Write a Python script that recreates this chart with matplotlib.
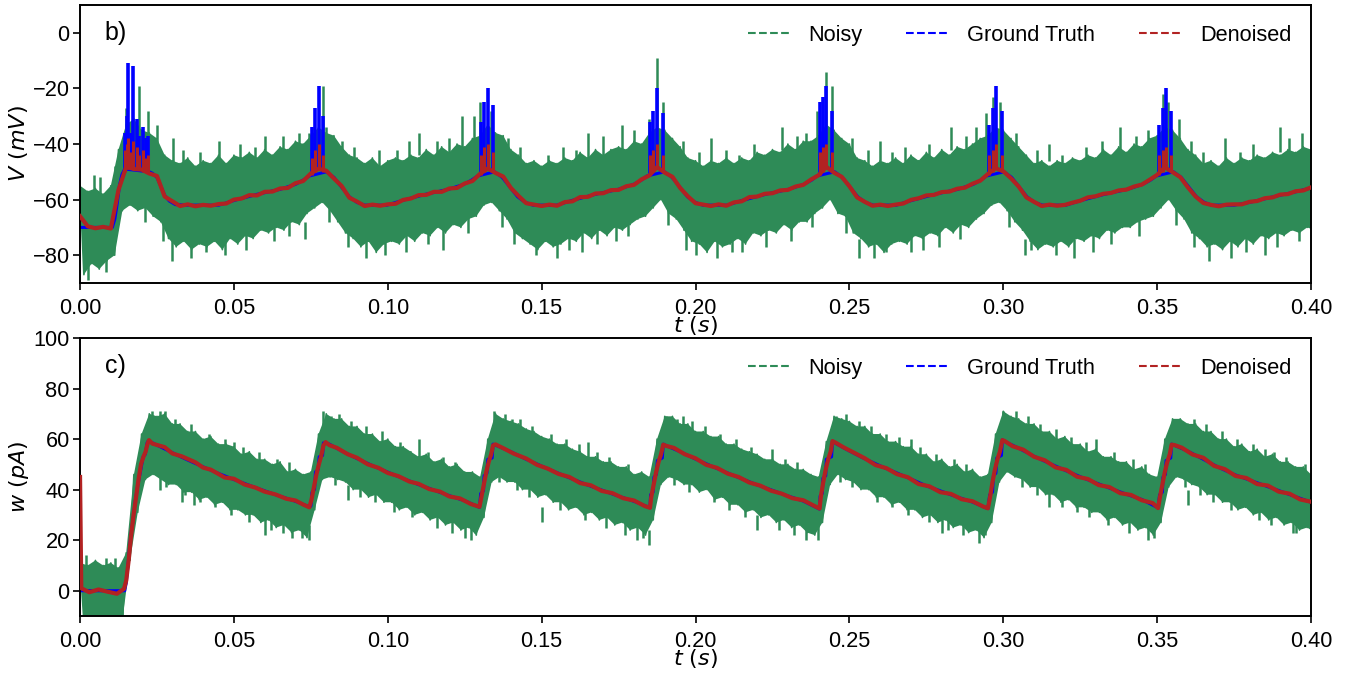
import numpy as np
import matplotlib
matplotlib.use("Agg")
import matplotlib.pyplot as plt
from matplotlib.lines import Line2D

plt.rcParams['font.family'] = ['Liberation Sans', 'DejaVu Sans']
plt.rcParams['mathtext.fontset'] = 'dejavusans'

# ---------------- data ----------------
STEP = 0.0025
N_GRID = 161
t_grid = np.arange(N_GRID) * STEP          # sample grid of the upper envelope
t_grid_lo = t_grid + STEP / 2              # sample grid of the lower envelope

XTICKS = [0.00, 0.05, 0.10, 0.15, 0.20, 0.25, 0.30, 0.35, 0.40]
V_YTICKS = [-80, -60, -40, -20, 0]
W_YTICKS = [0, 20, 40, 60, 80, 100]
LABELS = ["Noisy", "Ground Truth", "Denoised"]

# ---- panel b) membrane potential V (mV) ----
V_noisy_hi = [
    -55, -57, -56, -58, -55, -42, -33, -31, -35, -36,
    -38, -44, -46, -47, -45, -48, -46, -47, -44, -47,
    -44, -45, -43, -45, -42, -44, -41, -42, -39, -40,
    -37, -34, -36, -37, -41, -44, -45, -47, -45, -48,
    -46, -45, -46, -44, -45, -42, -44, -41, -43, -40,
    -41, -38, -37, -33, -36, -37, -42, -44, -47, -46,
    -48, -46, -47, -45, -46, -43, -45, -42, -44, -42,
    -41, -42, -39, -40, -36, -34, -35, -38, -41, -45,
    -46, -48, -46, -47, -45, -47, -45, -46, -43, -44,
    -42, -43, -40, -42, -39, -39, -37, -33, -35, -38,
    -40, -45, -46, -48, -46, -47, -45, -47, -44, -46,
    -43, -45, -42, -44, -41, -42, -40, -38, -37, -34,
    -35, -38, -41, -44, -47, -46, -48, -46, -47, -45,
    -46, -44, -45, -42, -44, -41, -43, -40, -41, -38,
    -37, -34, -35, -38, -42, -44, -47, -46, -48, -45,
    -47, -45, -46, -44, -45, -43, -44, -42, -43, -41,
    -42]
V_noisy_lo = [
    -87, -83, -85, -82, -80, -64, -62, -64, -63, -66,
    -68, -74, -77, -75, -78, -76, -77, -75, -78, -74,
    -76, -73, -74, -71, -72, -70, -71, -68, -69, -65,
    -63, -61, -64, -68, -72, -74, -77, -75, -79, -76,
    -75, -76, -73, -75, -72, -73, -70, -72, -69, -70,
    -67, -66, -62, -61, -64, -67, -72, -74, -76, -78,
    -75, -77, -76, -74, -75, -72, -74, -71, -73, -70,
    -71, -69, -67, -66, -63, -60, -65, -67, -71, -75,
    -76, -79, -75, -77, -76, -74, -76, -72, -73, -71,
    -72, -69, -71, -68, -68, -65, -63, -60, -65, -66,
    -72, -74, -77, -76, -79, -76, -75, -76, -73, -74,
    -72, -73, -70, -72, -69, -70, -67, -65, -62, -61,
    -64, -68, -71, -75, -78, -76, -77, -75, -77, -74,
    -75, -73, -74, -71, -72, -70, -70, -68, -67, -66,
    -63, -60, -64, -67, -72, -74, -77, -76, -78, -75,
    -77, -74, -76, -73, -74, -72, -73, -71, -72, -70,
    -71]
# isolated noisy excursions (time, low end, high end)
V_noisy_spk_t = [0.0149, 0.0190, 0.0222, 0.0303, 0.0745, 0.0789, 0.0800, 0.1280, 0.1335, 0.1300,
                 0.1874, 0.1893, 0.1850, 0.2424, 0.2443, 0.2395, 0.2966, 0.2990, 0.2945, 0.3520,
                 0.3535, 0.3570, 0.0045, 0.0450, 0.0600, 0.1100, 0.1240, 0.1650, 0.1760, 0.2050,
                 0.2280, 0.2600, 0.2830, 0.3150, 0.3380, 0.3720, 0.3900, 0.3970,
                 0.0300, 0.0470, 0.0730, 0.0930, 0.1180, 0.1480, 0.1630, 0.2000, 0.2150, 0.2530,
                 0.2700, 0.3070, 0.3230, 0.3670, 0.3850]
V_noisy_spk_lo = [-45, -45, -45, -48, -42, -42, -42, -42, -40, -40,
                  -40, -40, -42, -40, -40, -42, -40, -40, -42, -40,
                  -40, -42, -58, -46, -44, -44, -42, -45, -42, -46,
                  -42, -46, -42, -46, -42, -46, -43, -42,
                  -82, -80, -74, -81, -78, -80, -79, -80, -79, -81,
                  -79, -80, -81, -82, -80]
V_noisy_spk_hi = [-27, -19, -28, -38, -36, -19, -34, -30, -28, -25,
                  -9, -25, -31, -14, -19, -28, -23, -25, -29, -22,
                  -25, -31, -51, -39, -37, -36, -30, -36, -33, -38,
                  -34, -39, -34, -40, -34, -38, -34, -36,
                  -74, -74, -68, -75, -70, -75, -72, -75, -72, -74,
                  -72, -74, -74, -75, -73]
# short noisy hairs sticking out of the upper / lower edge (time, tip value)
V_hair_up_t = [0.0065, 0.0115, 0.0250, 0.0335, 0.0390, 0.0520, 0.0570, 0.0660, 0.0710, 0.0850,
               0.0890, 0.0970, 0.1030, 0.1070, 0.1160, 0.1200, 0.1390, 0.1430, 0.1520, 0.1570,
               0.1610, 0.1700, 0.1800, 0.1960, 0.2010, 0.2100, 0.2140, 0.2190, 0.2330, 0.2360,
               0.2510, 0.2560, 0.2640, 0.2680, 0.2760, 0.2880, 0.2910, 0.3040, 0.3110, 0.3190,
               0.3270, 0.3320, 0.3430, 0.3470, 0.3610, 0.3650, 0.3770, 0.3810, 0.3930]
V_hair_up_v = [-52, -48, -33, -42, -43, -40, -41, -37, -36, -39,
               -41, -42, -42, -39, -39, -38, -38, -41, -44, -41,
               -42, -37, -35, -39, -43, -42, -44, -40, -37, -36,
               -38, -42, -43, -41, -40, -37, -34, -36, -42, -44,
               -41, -39, -37, -35, -39, -43, -43, -40, -38]
V_hair_dn_t = [0.0025, 0.0085, 0.0210, 0.0270, 0.0360, 0.0410, 0.0540, 0.0630, 0.0680, 0.0810,
               0.0870, 0.0990, 0.1060, 0.1130, 0.1260, 0.1370, 0.1410, 0.1550, 0.1590, 0.1680,
               0.1740, 0.1780, 0.1910, 0.1970, 0.2070, 0.2120, 0.2230, 0.2310, 0.2380, 0.2490,
               0.2580, 0.2620, 0.2740, 0.2790, 0.2860, 0.3020, 0.3090, 0.3170, 0.3290, 0.3350,
               0.3440, 0.3560, 0.3620, 0.3740, 0.3790, 0.3890, 0.3960]
V_hair_dn_v = [-89, -86, -68, -75, -81, -79, -78, -75, -73, -68,
               -77, -80, -79, -76, -72, -70, -76, -81, -78, -76,
               -75, -73, -69, -78, -81, -79, -77, -75, -70, -72,
               -81, -79, -78, -77, -74, -70, -78, -80, -79, -76,
               -73, -69, -77, -81, -79, -77, -75]

V_truth_t = [0.0000, 0.0105, 0.0113, 0.0120, 0.0128, 0.0136, 0.0145, 0.0225, 0.0235, 0.0250,
             0.0262, 0.0275, 0.0290, 0.0310, 0.0350, 0.0450, 0.0475, 0.0500, 0.0575, 0.0650,
             0.0700, 0.0725, 0.0745, 0.0800, 0.0825, 0.0850, 0.0875, 0.0900, 0.0925,
             0.0997, 0.1047, 0.1122, 0.1197, 0.1247, 0.1272, 0.1292, 0.1347, 0.1372, 0.1397,
             0.1422, 0.1447, 0.1472, 0.1549, 0.1599, 0.1674, 0.1749, 0.1799, 0.1824, 0.1842,
             0.1899, 0.1924, 0.1949, 0.1974, 0.1999, 0.2024, 0.2102, 0.2152, 0.2227, 0.2302,
             0.2352, 0.2377, 0.2394, 0.2452, 0.2477, 0.2502, 0.2527, 0.2552, 0.2577, 0.2652,
             0.2702, 0.2777, 0.2852, 0.2902, 0.2927, 0.2945, 0.3002, 0.3027, 0.3052, 0.3077,
             0.3102, 0.3127, 0.3203, 0.3253, 0.3328, 0.3403, 0.3453, 0.3478, 0.3497, 0.3553,
             0.3578, 0.3603, 0.3628, 0.3653, 0.3678, 0.3750, 0.3800, 0.3850, 0.3900, 0.3950,
             0.4000]
V_truth_v = [-70.0, -70.0, -67.0, -62.0, -55.0, -51.0, -49.0, -50.0, -50.5, -52.0,
             -55.0, -58.5, -60.5, -61.8, -62.0, -62.0, -61.2, -60.3, -58.1, -56.3,
             -54.5, -53.0, -51.5, -50.0, -52.0, -55.5, -59.0, -61.0, -62.0,
             -62.0, -60.3, -58.1, -56.3, -54.5, -53.0, -51.5, -50.0, -52.0, -55.5,
             -59.0, -61.0, -62.0, -62.0, -60.3, -58.1, -56.3, -54.5, -53.0, -51.5,
             -50.0, -52.0, -55.5, -59.0, -61.0, -62.0, -62.0, -60.3, -58.1, -56.3,
             -54.5, -53.0, -51.5, -50.0, -52.0, -55.5, -59.0, -61.0, -62.0, -62.0,
             -60.3, -58.1, -56.3, -54.5, -53.0, -51.5, -50.0, -52.0, -55.5, -59.0,
             -61.0, -62.0, -62.0, -60.3, -58.1, -56.3, -54.5, -53.0, -51.5, -50.0,
             -52.0, -55.5, -59.0, -61.0, -62.0, -62.0, -61.0, -59.7, -58.4, -57.2,
             -55.8]
# action potentials of the ground truth / denoised traces
V_spk_t = [0.0146, 0.0152, 0.0157, 0.0165, 0.0173, 0.0184, 0.0193, 0.0206, 0.0214, 0.0221,
           0.0753, 0.0762, 0.0775, 0.0788,
           0.1303, 0.1313, 0.1324, 0.1341,
           0.1852, 0.1863, 0.1874, 0.1894,
           0.2403, 0.2413, 0.2424, 0.2443,
           0.2955, 0.2966, 0.2977, 0.2995,
           0.3507, 0.3518, 0.3528, 0.3545]
V_spk_base = [-50, -49, -49, -49, -49, -49, -49, -50, -50, -50,
              -51, -50, -49, -50,
              -51, -50, -49, -50,
              -51, -50, -49, -50,
              -51, -50, -49, -50,
              -51, -50, -49, -50,
              -51, -50, -49, -50]
V_truth_spk_peak = [-36, -30, -11, -36, -12, -31, -37, -34, -38, -37,
                    -34, -27, -19, -30,
                    -32, -25, -20, -26,
                    -32, -28, -20, -29,
                    -25, -23, -19, -28,
                    -33, -27, -19, -28,
                    -33, -27, -20, -28]
V_den_spk_peak = [-42, -40, -38, -43, -39, -41, -44, -42, -45, -44,
                  -45, -42, -40, -44,
                  -44, -41, -40, -43,
                  -44, -42, -40, -44,
                  -43, -41, -40, -43,
                  -44, -42, -40, -44,
                  -44, -42, -41, -44]
V_denoised = [
    -66.0, -69.6, -70.3, -69.8, -70.4, -56.5, -48.2, -49.0, -49.2, -50.6,
    -51.5, -58.9, -60.6, -62.3, -61.7, -62.4, -61.9, -62.2, -61.6, -61.4,
    -60.0, -59.6, -58.4, -58.5, -57.2, -57.1, -56.0, -55.8, -54.1, -53.3,
    -50.6, -48.9, -49.6, -52.4, -55.1, -59.3, -60.7, -62.3, -61.8, -62.2,
    -61.7, -61.5, -60.1, -59.6, -58.4, -58.3, -57.2, -57.2, -56.0, -55.8,
    -54.2, -53.3, -50.7, -48.8, -50.4, -51.7, -55.8, -58.7, -61.3, -61.8,
    -62.3, -61.8, -62.2, -60.9, -60.6, -59.1, -59.0, -57.8, -57.7, -56.6,
    -56.5, -55.2, -54.7, -52.7, -51.3, -48.3, -50.3, -51.8, -55.8, -58.8,
    -61.3, -61.8, -62.3, -61.7, -62.2, -61.0, -60.6, -59.1, -58.9, -57.9,
    -57.7, -56.7, -56.5, -55.3, -54.7, -52.8, -51.2, -48.2, -50.3, -51.8,
    -55.2, -59.2, -60.8, -62.2, -61.8, -62.3, -61.8, -61.4, -60.1, -59.5,
    -58.5, -58.3, -57.3, -57.1, -56.1, -55.7, -54.3, -53.2, -50.8, -48.7,
    -49.8, -52.3, -55.3, -59.2, -60.8, -62.3, -61.8, -62.2, -61.9, -61.1,
    -60.4, -59.2, -58.8, -57.9, -57.6, -56.7, -56.4, -55.3, -54.6, -52.9,
    -51.1, -48.4, -50.1, -51.9, -55.6, -58.9, -61.2, -61.9, -62.4, -61.8,
    -61.7, -61.7, -60.8, -60.5, -59.5, -59.2, -58.2, -58.0, -57.0, -56.7,
    -55.6]

# ---- panel c) adaptation current w (pA) ----
W_noisy_hi = [
    11, 10, 12, 10, 11, 9, 15, 46, 62, 70,
    69, 70, 66, 66, 63, 63, 60, 61, 58, 58,
    57, 54, 55, 52, 52, 50, 51, 47, 48, 46,
    47, 62, 70, 68, 68, 65, 65, 62, 62, 59,
    60, 57, 57, 55, 53, 54, 51, 52, 49, 50,
    47, 47, 45, 60, 70, 68, 67, 66, 64, 63,
    61, 60, 58, 58, 56, 55, 53, 53, 51, 51,
    49, 49, 46, 47, 45, 60, 69, 69, 66, 66,
    63, 63, 61, 61, 58, 58, 56, 55, 54, 52,
    52, 50, 50, 48, 48, 46, 45, 59, 69, 68,
    67, 65, 65, 62, 62, 59, 59, 57, 57, 54,
    54, 51, 52, 49, 50, 47, 48, 45, 46, 62,
    71, 69, 68, 66, 66, 63, 63, 60, 61, 58,
    58, 55, 56, 53, 53, 51, 51, 48, 49, 46,
    45, 60, 68, 68, 66, 66, 63, 63, 60, 60,
    57, 58, 55, 56, 53, 54, 51, 51, 49, 49,
    46]
W_noisy_lo = [
    -12, -13, -11, -13, -12, -12, 12, 31, 44, 46,
    44, 42, 42, 39, 39, 36, 37, 34, 35, 32,
    32, 30, 30, 27, 28, 25, 26, 23, 24, 21,
    32, 44, 45, 44, 43, 40, 40, 37, 38, 35,
    35, 32, 33, 30, 31, 28, 29, 26, 27, 24,
    25, 22, 29, 43, 45, 43, 43, 40, 40, 37,
    38, 35, 35, 32, 33, 30, 31, 28, 29, 26,
    27, 24, 25, 22, 28, 42, 45, 44, 42, 42,
    39, 40, 36, 37, 34, 34, 31, 32, 29, 30,
    27, 28, 25, 26, 23, 22, 27, 42, 46, 44,
    43, 40, 40, 37, 37, 34, 35, 32, 32, 29,
    30, 27, 28, 25, 26, 23, 24, 21, 27, 43,
    47, 45, 44, 41, 41, 38, 38, 35, 36, 33,
    33, 31, 31, 28, 29, 26, 27, 24, 25, 22,
    27, 41, 45, 44, 42, 41, 38, 38, 35, 35,
    32, 33, 30, 31, 28, 29, 26, 27, 24, 25,
    23]
W_noisy_spk_t = [0.0235, 0.0275, 0.0185, 0.0790, 0.0815, 0.1345, 0.1405, 0.1905, 0.1940, 0.2455,
                 0.2998, 0.3020, 0.3575, 0.1100, 0.1650, 0.2250, 0.3300, 0.3850, 0.0085, 0.0500,
                 0.2700,
                 0.0260, 0.0370, 0.0600, 0.0720, 0.0745, 0.1250, 0.1285, 0.1830, 0.1850, 0.2398,
                 0.2940, 0.3490, 0.1500, 0.2200, 0.3600, 0.2800, 0.0330, 0.0870, 0.3150, 0.3950]
W_noisy_spk_lo = [62, 62, 40, 62, 62, 62, 60, 62, 60, 62,
                  63, 62, 62, 50, 48, 46, 50, 46, 8, 52,
                  52,
                  40, 34, 22, 21, 20, 21, 23, 21, 18, 20,
                  22, 21, 27, 24, 34, 23, 35, 36, 33, 23]
W_noisy_spk_hi = [71, 71, 50, 71, 69, 71, 68, 69, 68, 69,
                  71, 69, 68, 60, 59, 56, 60, 56, 13, 59,
                  60,
                  46, 40, 29, 26, 26, 26, 28, 26, 24, 26,
                  27, 26, 33, 30, 40, 28, 41, 42, 39, 28]
W_hair_up_t = [0.0020, 0.0115, 0.0260, 0.0310, 0.0360, 0.0420, 0.0470, 0.0530, 0.0580, 0.0640,
               0.0680, 0.0840, 0.0880, 0.0930, 0.0980, 0.1040, 0.1130, 0.1180, 0.1220, 0.1380,
               0.1430, 0.1470, 0.1530, 0.1580, 0.1620, 0.1680, 0.1720, 0.1780, 0.1960, 0.1990,
               0.2030, 0.2080, 0.2130, 0.2180, 0.2290, 0.2330, 0.2490, 0.2530, 0.2570, 0.2620,
               0.2660, 0.2730, 0.2780, 0.2840, 0.2880, 0.3040, 0.3080, 0.3120, 0.3170, 0.3220,
               0.3270, 0.3360, 0.3420, 0.3460, 0.3620, 0.3660, 0.3710, 0.3760, 0.3810, 0.3880,
               0.3920, 0.3980]
W_hair_up_v = [14, 13, 71, 68, 66, 62, 60, 57, 55, 52,
               51, 70, 67, 65, 63, 59, 55, 53, 51, 70,
               68, 65, 62, 60, 58, 55, 53, 50, 69, 67,
               65, 62, 60, 57, 52, 51, 70, 67, 65, 62,
               61, 57, 54, 52, 50, 71, 69, 66, 64, 61,
               59, 55, 52, 50, 68, 66, 63, 60, 58, 55,
               53, 50]
W_hair_dn_t = [0.0040, 0.0135, 0.0280, 0.0340, 0.0390, 0.0440, 0.0490, 0.0550, 0.0620, 0.0660,
               0.0690, 0.0830, 0.0910, 0.0960, 0.1020, 0.1080, 0.1160, 0.1210, 0.1270, 0.1360,
               0.1420, 0.1460, 0.1560, 0.1640, 0.1710, 0.1770, 0.1810, 0.1930, 0.1980, 0.2060,
               0.2110, 0.2160, 0.2270, 0.2320, 0.2360, 0.2470, 0.2510, 0.2590, 0.2640, 0.2690,
               0.2760, 0.2820, 0.2870, 0.2920, 0.3060, 0.3110, 0.3190, 0.3240, 0.3280, 0.3340,
               0.3410, 0.3470, 0.3590, 0.3640, 0.3680, 0.3740, 0.3830, 0.3870, 0.3940]
W_hair_dn_v = [-15, -14, 41, 38, 35, 33, 30, 27, 24, 23,
               21, 42, 37, 35, 31, 29, 25, 23, 20, 43,
               40, 37, 32, 28, 25, 22, 20, 42, 39, 35,
               32, 29, 24, 22, 20, 43, 41, 35, 33, 30,
               27, 24, 22, 19, 41, 38, 33, 31, 29, 26,
               23, 20, 41, 38, 35, 32, 28, 26, 23]

W_truth_t = [0.0000, 0.0145, 0.0150, 0.0155, 0.0160, 0.0165, 0.0172, 0.0180, 0.0188, 0.0196,
             0.0205, 0.0212, 0.0218, 0.0222, 0.0250, 0.0300, 0.0350, 0.0400, 0.0450, 0.0500,
             0.0550, 0.0600, 0.0650, 0.0700, 0.0745, 0.0750, 0.0754, 0.0762, 0.0765, 0.0774,
             0.0777, 0.0788, 0.0791, 0.0810, 0.0850, 0.0900, 0.0950, 0.1000, 0.1050, 0.1100,
             0.1150, 0.1200, 0.1250, 0.1298, 0.1302, 0.1311, 0.1313, 0.1322, 0.1325, 0.1339,
             0.1342, 0.1352, 0.1400, 0.1450, 0.1500, 0.1550, 0.1600, 0.1650, 0.1700, 0.1750,
             0.1800, 0.1852, 0.1854, 0.1862, 0.1865, 0.1873, 0.1876, 0.1892, 0.1895, 0.1905,
             0.1950, 0.2000, 0.2050, 0.2100, 0.2150, 0.2200, 0.2250, 0.2300, 0.2350, 0.2403,
             0.2405, 0.2412, 0.2414, 0.2423, 0.2425, 0.2442, 0.2445, 0.2455, 0.2500, 0.2550,
             0.2600, 0.2650, 0.2700, 0.2750, 0.2800, 0.2850, 0.2900, 0.2950, 0.2956, 0.2965,
             0.2968, 0.2976, 0.2979, 0.2994, 0.2997, 0.3005, 0.3050, 0.3100, 0.3150, 0.3200,
             0.3250, 0.3300, 0.3350, 0.3400, 0.3450, 0.3503, 0.3508, 0.3517, 0.3519, 0.3527,
             0.3529, 0.3544, 0.3547, 0.3557, 0.3600, 0.3650, 0.3700, 0.3750, 0.3800, 0.3850,
             0.3900, 0.3950, 0.4000]
W_truth_v = [0.0, 0.0, 3.0, 9.0, 16.0, 22.0, 28.0, 36.0, 42.0, 47.0,
             53.0, 54.0, 58.5, 59.3, 57.6, 54.6, 51.7, 49.0, 46.4, 44.0,
             41.7, 39.5, 37.4, 35.4, 33.2, 33.5, 39.0, 40.0, 47.0, 48.0,
             53.0, 53.5, 58.5, 58.0, 55.3, 52.3, 49.5, 46.9, 44.4, 42.0,
             39.8, 37.6, 35.6, 33.0, 38.5, 39.5, 45.5, 46.5, 52.0, 52.5,
             58.0, 57.5, 55.0, 52.0, 49.3, 46.7, 44.2, 41.8, 39.6, 37.4,
             35.4, 32.8, 38.0, 39.0, 45.0, 46.0, 51.5, 52.5, 58.0, 57.4,
             55.0, 52.1, 49.4, 46.8, 44.3, 41.9, 39.7, 37.5, 35.5, 32.3,
             37.5, 38.5, 44.5, 45.5, 52.0, 53.0, 59.2, 58.3, 55.3, 52.2,
             49.4, 46.8, 44.2, 41.5, 39.3, 37.1, 35.1, 32.5, 38.0, 39.0,
             45.5, 46.5, 52.5, 53.5, 59.7, 59.0, 56.4, 53.2, 50.4, 47.7,
             45.1, 42.7, 40.4, 38.2, 36.1, 32.8, 38.0, 39.0, 45.0, 46.0,
             51.5, 52.5, 58.0, 57.5, 55.2, 52.0, 48.8, 46.0, 43.8, 41.6,
             39.4, 37.2, 35.0]
W_den_t = [0.0000, 0.0004, 0.0030, 0.0060, 0.0090, 0.0120, 0.0143, 0.0150, 0.0158, 0.0166,
           0.0174, 0.0182, 0.0190, 0.0198, 0.0206, 0.0213, 0.0219, 0.0224, 0.0235, 0.0275,
           0.0300, 0.0330, 0.0375, 0.0400, 0.0425, 0.0470, 0.0500, 0.0535, 0.0570, 0.0600,
           0.0635, 0.0670, 0.0700, 0.0725, 0.0745,
           0.0752, 0.0760, 0.0768, 0.0776, 0.0784, 0.0791, 0.0798, 0.0810, 0.0835, 0.0870,
           0.0900, 0.0935, 0.0970, 0.1000, 0.1035, 0.1070, 0.1100, 0.1135, 0.1170, 0.1200,
           0.1235, 0.1270, 0.1298,
           0.1304, 0.1312, 0.1320, 0.1328, 0.1336, 0.1342, 0.1350, 0.1375, 0.1410, 0.1450,
           0.1485, 0.1520, 0.1555, 0.1590, 0.1625, 0.1660, 0.1695, 0.1730, 0.1765, 0.1800,
           0.1835, 0.1852,
           0.1856, 0.1864, 0.1872, 0.1880, 0.1888, 0.1895, 0.1905, 0.1930, 0.1965, 0.2000,
           0.2035, 0.2070, 0.2105, 0.2140, 0.2175, 0.2210, 0.2245, 0.2280, 0.2315, 0.2350,
           0.2385, 0.2403,
           0.2407, 0.2415, 0.2423, 0.2431, 0.2439, 0.2445, 0.2455, 0.2480, 0.2515, 0.2550,
           0.2585, 0.2620, 0.2655, 0.2690, 0.2725, 0.2760, 0.2795, 0.2830, 0.2865, 0.2900,
           0.2935, 0.2950,
           0.2957, 0.2965, 0.2973, 0.2981, 0.2989, 0.2997, 0.3005, 0.3030, 0.3065, 0.3100,
           0.3135, 0.3170, 0.3205, 0.3240, 0.3275, 0.3310, 0.3345, 0.3380, 0.3415, 0.3450,
           0.3485, 0.3503,
           0.3509, 0.3517, 0.3525, 0.3533, 0.3541, 0.3547, 0.3557, 0.3580, 0.3615, 0.3650,
           0.3685, 0.3720, 0.3755, 0.3790, 0.3825, 0.3860, 0.3895, 0.3930, 0.3965, 0.4000]
W_den_v = [45.0, 1.0, -0.6, 0.5, -0.4, -1.2, 0.8, 4.0, 12.0, 22.0,
           30.0, 37.0, 44.0, 50.0, 53.0, 55.0, 58.0, 59.6, 58.2, 56.8,
           54.3, 53.2, 50.8, 48.7, 47.9, 44.8, 44.3, 42.0, 40.8, 39.2,
           38.1, 36.4, 35.7, 34.1, 33.0,
           36.0, 41.0, 46.0, 50.0, 53.5, 57.5, 58.8, 57.6, 56.5, 54.0,
           52.6, 50.0, 48.6, 46.6, 45.3, 43.2, 42.3, 40.2, 39.2, 37.3,
           36.5, 34.3, 33.2,
           37.0, 42.0, 47.0, 51.0, 54.0, 57.5, 57.9, 56.4, 54.2, 52.3,
           49.8, 48.3, 46.2, 45.0, 42.6, 41.7, 39.5, 38.6, 36.6, 35.7,
           33.5, 32.8,
           37.0, 42.0, 47.0, 51.0, 54.0, 57.8, 57.3, 56.5, 54.0, 52.4,
           49.8, 48.6, 46.3, 45.0, 42.8, 41.6, 39.6, 38.4, 36.6, 35.8,
           33.6, 32.5,
           37.0, 43.0, 48.0, 52.0, 55.0, 59.2, 58.6, 56.8, 54.6, 52.4,
           49.7, 48.5, 46.1, 44.9, 42.2, 41.3, 39.0, 38.3, 36.2, 35.4,
           33.3, 32.6,
           37.0, 43.0, 48.0, 52.0, 55.0, 59.6, 59.2, 57.2, 55.8, 53.0,
           51.6, 48.8, 47.8, 45.1, 44.2, 41.8, 41.0, 38.6, 37.9, 35.8,
           34.7, 32.7,
           37.0, 42.0, 47.0, 51.0, 54.0, 57.8, 57.6, 56.6, 53.9, 52.6,
           49.4, 48.1, 45.4, 44.6, 42.2, 41.6, 39.2, 38.4, 36.1, 35.2]

for arr in (V_noisy_hi, V_noisy_lo, V_denoised, W_noisy_hi, W_noisy_lo):
    assert len(arr) == N_GRID, len(arr)
assert len(V_truth_t) == len(V_truth_v)
assert len(W_truth_t) == len(W_truth_v)
assert len(W_den_t) == len(W_den_v)
assert len(V_hair_up_t) == len(V_hair_up_v), (len(V_hair_up_t), len(V_hair_up_v))
assert len(V_hair_dn_t) == len(V_hair_dn_v), (len(V_hair_dn_t), len(V_hair_dn_v))
assert len(W_hair_up_t) == len(W_hair_up_v), (len(W_hair_up_t), len(W_hair_up_v))
assert len(W_hair_dn_t) == len(W_hair_dn_v), (len(W_hair_dn_t), len(W_hair_dn_v))

# ---------------- style ----------------
GREEN = '#2e8b57'
BLUE = '#0000ff'
RED = '#b22222'
FS = 15.7
HAIR = 9.0      # length of an edge hair, in data units

fig = plt.figure(figsize=(13.59, 6.75), dpi=100)
ax1 = fig.add_axes([0.0589, 0.5807, 0.9058, 0.4119])
ax2 = fig.add_axes([0.0589, 0.0874, 0.9058, 0.4119])


def draw_noisy(ax, hi, lo, spk_t, spk_lo, spk_hi, up_t, up_v, dn_t, dn_v):
    hi = np.asarray(hi, float)
    lo = np.asarray(lo, float)
    ax.fill(np.concatenate([t_grid, t_grid_lo[::-1]]),
            np.concatenate([hi, lo[::-1]]), color=GREEN, lw=0, zorder=1)
    zt = np.empty(2 * N_GRID)
    zv = np.empty(2 * N_GRID)
    zt[0::2], zt[1::2] = t_grid, t_grid_lo
    zv[0::2], zv[1::2] = hi, lo
    ax.plot(zt, zv, color=GREEN, lw=1.2, zorder=1)
    ax.vlines(spk_t, spk_lo, spk_hi, color=GREEN, lw=1.8, zorder=1)
    up_v = np.asarray(up_v, float)
    dn_v = np.asarray(dn_v, float)
    ax.vlines(up_t, up_v - HAIR, up_v, color=GREEN, lw=1.8, zorder=1)
    ax.vlines(dn_t, dn_v, dn_v + HAIR, color=GREEN, lw=1.8, zorder=1)


# panel b
draw_noisy(ax1, V_noisy_hi, V_noisy_lo, V_noisy_spk_t, V_noisy_spk_lo, V_noisy_spk_hi,
           V_hair_up_t, V_hair_up_v, V_hair_dn_t, V_hair_dn_v)
ax1.plot(V_truth_t, V_truth_v, color=BLUE, lw=2.2, zorder=2)
ax1.vlines(V_spk_t, V_spk_base, V_truth_spk_peak, color=BLUE, lw=2.6, zorder=2)
ax1.plot(t_grid, V_denoised, color=RED, lw=3.0, zorder=3)
ax1.vlines(V_spk_t, V_spk_base, V_den_spk_peak, color=RED, lw=2.2, zorder=3)

# panel c
draw_noisy(ax2, W_noisy_hi, W_noisy_lo, W_noisy_spk_t, W_noisy_spk_lo, W_noisy_spk_hi,
           W_hair_up_t, W_hair_up_v, W_hair_dn_t, W_hair_dn_v)
ax2.plot(W_truth_t, W_truth_v, color=BLUE, lw=2.2, zorder=2)
ax2.plot(W_den_t, W_den_v, color=RED, lw=3.0, zorder=3)

handles = [Line2D([], [], color=GREEN, ls='--', lw=1.5),
           Line2D([], [], color=BLUE, ls='--', lw=1.5),
           Line2D([], [], color=RED, ls='--', lw=1.5)]

for ax, yt, ylim, ylab, tag in [
        (ax1, V_YTICKS, (-90, 10), r'$V\ (mV)$', 'b)'),
        (ax2, W_YTICKS, (-10, 100), r'$w\ (pA)$', 'c)')]:
    ax.set_xlim(0, 0.4)
    ax.set_ylim(*ylim)
    ax.set_xticks(XTICKS)
    ax.set_xticklabels([f'{x:.2f}' for x in XTICKS])
    ax.set_yticks(yt)
    ax.tick_params(labelsize=FS, width=1.2, length=5)
    ax.tick_params(axis='x', pad=6)
    ax.tick_params(axis='y', pad=2.5)
    for s in ax.spines.values():
        s.set_linewidth(1.4)
    ax.set_xlabel(r'$t\ (s)$', fontsize=16, labelpad=-4)
    ax.set_ylabel(ylab, fontsize=16, labelpad=2)
    ax.text(0.02, 0.9, tag, transform=ax.transAxes, fontsize=18,
            va='center', ha='left')
    ax.legend(handles, LABELS, loc='upper right', ncol=3, frameon=False,
              fontsize=FS)

fig.savefig('out.png', dpi=100)
